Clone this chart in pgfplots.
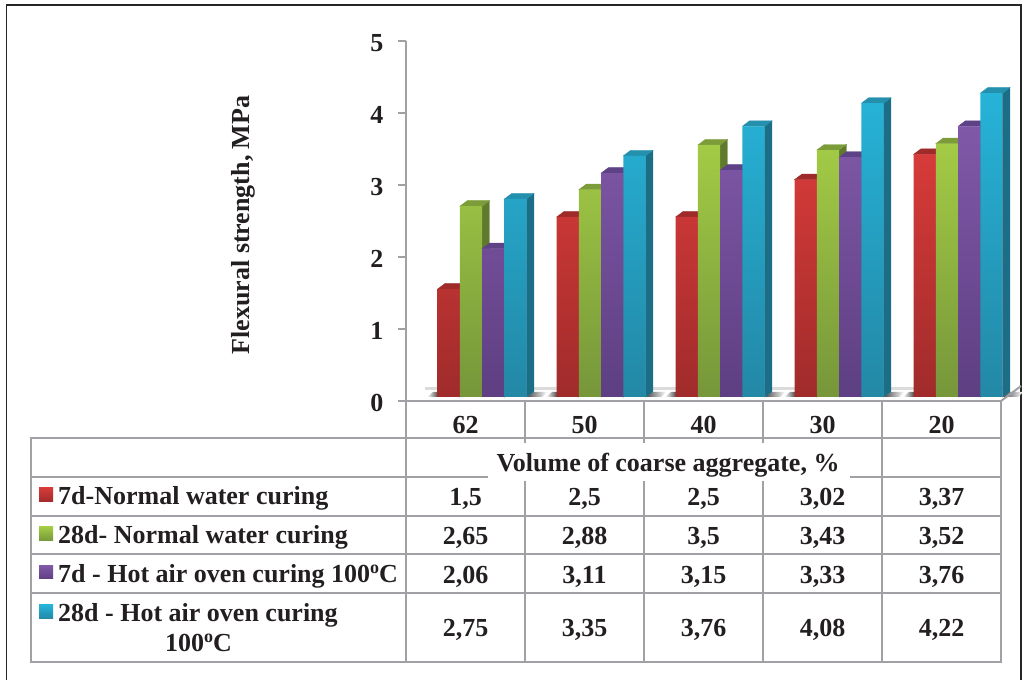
\documentclass[border=0pt]{standalone}
\usepackage{pgfplots}
\usepackage{pgfplotstable}
\usepackage{fontspec}
\setmainfont{Liberation Serif}
\pgfplotsset{compat=1.18}
\pgfplotstableread{
x   a    b    c    d
0.5 1.5  2.65 2.06 2.75
1.5 2.5  2.88 3.11 3.35
2.5 2.5  3.5  3.15 3.76
3.5 3.02 3.43 3.33 4.08
4.5 3.37 3.52 3.76 4.22
}\datatab
\definecolor{ink}{HTML}{231F20}
\definecolor{grid}{HTML}{A0A0A5}
\definecolor{rT}{HTML}{D63B39}\definecolor{rB}{HTML}{A02B2B}\definecolor{rC}{HTML}{9E2A2A}\definecolor{rS}{HTML}{7A2020}
\definecolor{gT}{HTML}{A3CB45}\definecolor{gB}{HTML}{76963A}\definecolor{gC}{HTML}{7C9C3A}\definecolor{gS}{HTML}{5F7A2C}
\definecolor{pT}{HTML}{8058A8}\definecolor{pB}{HTML}{5E3F82}\definecolor{pC}{HTML}{5E4286}\definecolor{pS}{HTML}{4A3268}
\definecolor{bT}{HTML}{26B3D8}\definecolor{bB}{HTML}{2388A6}\definecolor{bC}{HTML}{2490AE}\definecolor{bS}{HTML}{1B6E85}
\pgfdeclareplotmark{nil}{}
% top and side faces of a bar, whose height comes from the plotted value
\newcommand\cubefaces[2]{%
  \pgfmathsetmacro\hh{\vy*72}%
  \fill[#2] (11.12pt,0pt) -- (18.4pt,5.5pt) -- (18.4pt,5.5pt-\hh pt) -- (11.12pt,-\hh pt) -- cycle;
  \fill[#1] (-11.12pt,0pt) -- (11.12pt,0pt) -- (18.4pt,5.5pt) -- (-3.8pt,5.5pt) -- cycle;
}
\newcommand\bft{\fontsize{26}{28}\selectfont\bfseries\color{ink}}
\newcommand\degO{\raisebox{0.36em}{\fontsize{18}{18}\selectfont o}}
\begin{document}
\begin{tikzpicture}[every node/.style={font=\bft}]
\path[use as bounding box] (0,0) rectangle (1023pt,680pt);
\begin{scope}[x=1pt,y=-1pt,yshift=680pt]
  % frame
  \draw[line width=1.3pt,color=black!85] (6.5,680) -- (6.5,5) -- (1021,5) -- (1021,680);
  % floor
  \draw[line width=2.5pt,color=black!14] (425,388.5) -- (1010,388.5);
  \foreach \k in {0,...,4}{
    \pgfmathsetmacro\xs{119*\k}
    \begin{scope}[xshift=\xs pt]
      \shade[left color=black!70,right color=white] (527,397) -- (542,397) -- (547,392) -- (533,392) -- cycle;
      \shade[left color=white,right color=black!70] (427,397) -- (438,397) -- (438,392) -- (433,392) -- cycle;
    \end{scope}
  }
\end{scope}
% tick and label axis
\begin{axis}[
  at={(406pt,279pt)},anchor=south west,scale only axis,width=595pt,height=360pt,
  xmin=0,xmax=5,ymin=0,ymax=5,
  axis y line=left,axis x line=bottom,
  axis line style={-,color=grid,line width=1.6pt},
  xtick={0.5,1.5,2.5,3.5,4.5},xticklabels={62,50,40,30,20},
  ytick={0,1,2,3,4,5},
  tick align=outside,
  x tick style={draw=none},
  y tick style={color=grid,line width=1.1pt},
  major tick length=8pt,
  /pgf/number format/assume math mode=true,
  xticklabel style={anchor=base,yshift=-25pt,font=\bft},
  yticklabel style={anchor=base east,xshift=-11pt,yshift=-11pt,font=\bft},
  every axis y label/.style={at={(axis description cs:-0.273,0.489)},rotate=90,anchor=center},
  ylabel={Flexural strength, MPa},
]
\end{axis}
% bars
\begin{axis}[
  at={(406pt,283pt)},anchor=south west,scale only axis,width=595pt,height=360pt,
  xmin=0,xmax=5,ymin=0,ymax=5,axis lines=none,clip=false,clip mode=individual,
  visualization depends on={y \as \vy},
]
\addplot[scatter,only marks,mark=nil,scatter/@post marker code/.code={},
  scatter/@pre marker code/.code={\cubefaces{rC}{rS}}]
  table[x expr=\thisrow{x}-0.1403,y=a]{\datatab};
\addplot[ybar,bar width=22.25pt,bar shift=0pt,draw=none,top color=rT,bottom color=rB]
  table[x expr=\thisrow{x}-0.1403,y=a]{\datatab};
\addplot[scatter,only marks,mark=nil,scatter/@post marker code/.code={},
  scatter/@pre marker code/.code={\cubefaces{gC}{gS}}]
  table[x expr=\thisrow{x}+0.0466,y=b]{\datatab};
\addplot[ybar,bar width=22.25pt,bar shift=0pt,draw=none,top color=gT,bottom color=gB]
  table[x expr=\thisrow{x}+0.0466,y=b]{\datatab};
\addplot[scatter,only marks,mark=nil,scatter/@post marker code/.code={},
  scatter/@pre marker code/.code={\cubefaces{pC}{pS}}]
  table[x expr=\thisrow{x}+0.2336,y=c]{\datatab};
\addplot[ybar,bar width=22.25pt,bar shift=0pt,draw=none,top color=pT,bottom color=pB]
  table[x expr=\thisrow{x}+0.2336,y=c]{\datatab};
\addplot[scatter,only marks,mark=nil,scatter/@post marker code/.code={},
  scatter/@pre marker code/.code={\cubefaces{bC}{bS}}]
  table[x expr=\thisrow{x}+0.4202,y=d]{\datatab};
\addplot[ybar,bar width=22.25pt,bar shift=0pt,draw=none,top color=bT,bottom color=bB]
  table[x expr=\thisrow{x}+0.4202,y=d]{\datatab};
\end{axis}
\begin{scope}[x=1pt,y=-1pt,yshift=680pt]
  \begin{scope}[color=grid,line width=2pt]
    \draw (1001,401) -- (1021,386);
    \draw (406,401) -- (1001,401);
    \draw (31,438) -- (1001,438);
    \draw (31,477) -- (488,477) (850,477) -- (1001,477);
    \foreach \y in {516,554,593,662} \draw (31,\y) -- (1001,\y);
    \draw (31,437) -- (31,663);
    \draw (406,401) -- (406,663);
    \draw (1001,401) -- (1001,663);
    \foreach \x in {525,644,763} \draw (\x,401) -- (\x,443) (\x,481) -- (\x,662);
    \draw (882,401) -- (882,662);
  \end{scope}
  % table text
  \node[anchor=base,inner sep=0pt] at (668,472) {Volume of coarse aggregate, \%};
  \newcommand\rowvals[6]{%
    \node[anchor=base] at (465.5,#1) {#2};
    \node[anchor=base] at (584.5,#1) {#3};
    \node[anchor=base] at (703.5,#1) {#4};
    \node[anchor=base] at (822.5,#1) {#5};
    \node[anchor=base] at (941.5,#1) {#6};}
  \rowvals{506}{1,5}{2,5}{2,5}{3,02}{3,37}
  \rowvals{545}{2,65}{2,88}{3,5}{3,43}{3,52}
  \rowvals{584}{2,06}{3,11}{3,15}{3,33}{3,76}
  \rowvals{637}{2,75}{3,35}{3,76}{4,08}{4,22}
  \shade[top color=rT,bottom color=rB] (39,488) rectangle (53,502);
  \shade[top color=gT,bottom color=gB] (39,527) rectangle (53,541);
  \shade[top color=pT,bottom color=pB] (39,566) rectangle (53,579);
  \shade[top color=bT,bottom color=bB] (39,605) rectangle (53,619);
  \node[anchor=base west,inner sep=0pt] at (58,505) {7d-Normal water curing};
  \node[anchor=base west,inner sep=0pt] at (58,544) {28d- Normal water curing};
  \node[anchor=base west,inner sep=0pt] at (58,583) {7d - Hot air oven curing 100\degO C};
  \node[anchor=base west,inner sep=0pt] at (58,622) {28d - Hot air oven curing};
  \node[anchor=base west,inner sep=0pt] at (165,652) {100\degO C};
\end{scope}
\end{tikzpicture}
\end{document}
